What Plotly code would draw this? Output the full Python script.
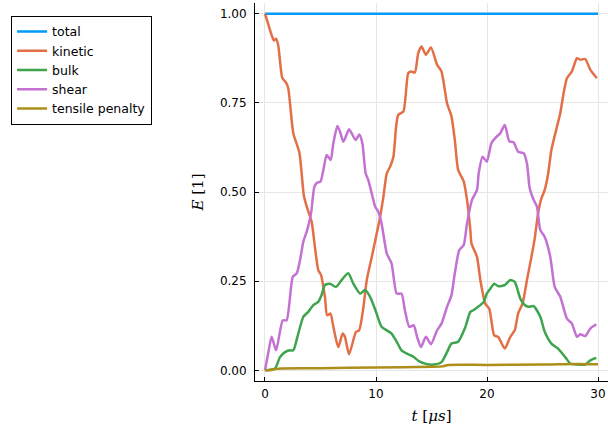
import plotly.graph_objects as go

# ---- data ----
total_t = [0, 30]
total_e = [1.0, 1.0]

kinetic_t = [0, 0.3, 0.6, 0.8, 1.0, 1.2, 1.56, 1.9, 2.1, 2.55, 3.1, 3.5, 3.76, 4.2, 4.5, 4.8, 5.05, 5.4, 5.6, 5.9,
             6.16, 6.6, 7.0, 7.2, 7.57, 8.2, 8.48, 8.87, 9.17, 9.62, 10.0, 10.37, 10.67, 10.97, 11.27, 11.57, 11.81,
             12.0, 12.47, 12.9, 13.16, 13.5, 13.8, 14.1, 14.5, 14.95, 15.5, 15.9, 16.4, 16.8, 17.1, 17.4, 17.9, 18.2,
             18.5, 18.6, 19.1, 19.4, 19.84, 20.2, 20.65, 21.0, 21.6, 22.1, 22.5, 22.8, 23.2, 23.6, 24.0, 24.3, 24.6,
             24.9, 25.2, 25.5, 25.8, 26.3, 26.6, 26.9, 27.2, 27.65, 28.1, 28.4, 28.85, 29.3, 29.9]
kinetic_e = [1.0, 0.97, 0.94, 0.925, 0.93, 0.91, 0.82, 0.807, 0.79, 0.665, 0.61, 0.49, 0.459, 0.417, 0.346, 0.281,
             0.267, 0.206, 0.154, 0.159, 0.122, 0.065, 0.103, 0.094, 0.045, 0.108, 0.112, 0.178, 0.253, 0.318, 0.374,
             0.43, 0.487, 0.552, 0.571, 0.599, 0.683, 0.716, 0.726, 0.833, 0.838, 0.835, 0.889, 0.908, 0.885, 0.905,
             0.857, 0.838, 0.749, 0.712, 0.646, 0.562, 0.53, 0.478, 0.393, 0.356, 0.318, 0.253, 0.187, 0.173, 0.098,
             0.094, 0.061, 0.094, 0.112, 0.159, 0.187, 0.253, 0.318, 0.37, 0.44, 0.482, 0.506, 0.55, 0.618, 0.683,
             0.721, 0.777, 0.819, 0.838, 0.875, 0.871, 0.873, 0.843, 0.819]

bulk_t = [0, 0.9, 1.35, 1.8, 2.25, 2.55, 3.0, 3.45, 3.9, 4.35, 4.8, 5.1, 5.4, 5.86, 6.4, 6.9, 7.5, 7.96, 8.57, 9.0,
          9.47, 10.0, 10.5, 10.97, 11.4, 11.87, 12.3, 12.9, 13.37, 13.9, 14.5, 15.2, 15.9, 16.4, 16.8, 17.4, 18.0,
          18.5, 18.8, 19.2, 19.7, 19.98, 20.3, 20.65, 21.0, 21.6, 22.1, 22.5, 23.0, 23.4, 23.75, 24.2, 24.8, 25.2,
          25.8, 26.4, 27.05, 27.5, 28.1, 28.85, 29.3, 29.85]
bulk_e = [0, 0.005, 0.037, 0.051, 0.056, 0.056, 0.103, 0.15, 0.164, 0.183, 0.192, 0.211, 0.239, 0.243, 0.234, 0.253,
          0.272, 0.243, 0.215, 0.225, 0.206, 0.164, 0.122, 0.112, 0.103, 0.08, 0.056, 0.045, 0.038, 0.025, 0.018,
          0.016, 0.023, 0.051, 0.075, 0.08, 0.117, 0.164, 0.169, 0.178, 0.192, 0.215, 0.229, 0.243, 0.236, 0.239,
          0.253, 0.248, 0.201, 0.183, 0.178, 0.18, 0.15, 0.108, 0.075, 0.061, 0.037, 0.019, 0.016, 0.016, 0.028,
          0.035]

shear_t = [0, 0.3, 0.6, 1.0, 1.6, 1.95, 2.5, 2.86, 3.16, 3.45, 3.8, 4.15, 4.45, 4.7, 5.0, 5.26, 5.56, 5.92, 6.16,
           6.52, 6.76, 7.06, 7.57, 7.8, 8.17, 8.5, 8.77, 9.07, 9.3, 9.76, 9.92, 10.2, 10.5, 10.97, 11.4, 11.87, 12.3,
           12.6, 13.0, 13.4, 13.7, 14.05, 14.5, 14.95, 15.5, 15.9, 16.4, 16.8, 17.1, 17.5, 17.9, 18.2, 18.65, 19.1,
           19.25, 19.6, 19.98, 20.4, 20.8, 21.2, 21.6, 22.0, 22.4, 22.8, 23.3, 23.6, 23.85, 24.2, 24.5, 24.8, 25.2,
           25.7, 26.1, 26.6, 27.2, 27.65, 28.1, 28.4, 28.85, 29.3, 29.85]
shear_e = [0, 0.05, 0.094, 0.056, 0.14, 0.14, 0.262, 0.272, 0.309, 0.36, 0.393, 0.44, 0.515, 0.526, 0.529, 0.562,
           0.604, 0.59, 0.637, 0.685, 0.669, 0.641, 0.676, 0.665, 0.646, 0.661, 0.637, 0.552, 0.534, 0.478, 0.459,
           0.445, 0.412, 0.328, 0.3, 0.215, 0.215, 0.169, 0.122, 0.126, 0.094, 0.065, 0.094, 0.073, 0.112, 0.131,
           0.178, 0.211, 0.272, 0.337, 0.351, 0.412, 0.478, 0.506, 0.552, 0.599, 0.585, 0.637, 0.653, 0.665, 0.688,
           0.643, 0.639, 0.613, 0.609, 0.58, 0.51, 0.478, 0.459, 0.393, 0.374, 0.318, 0.234, 0.206, 0.145, 0.131,
           0.094, 0.101, 0.096, 0.117, 0.129]

tensile_t = [0, 0.5, 1.0, 1.5, 5, 10, 15, 16, 16.5, 20, 25, 28, 30]
tensile_e = [0, 0.001, 0.004, 0.005, 0.006, 0.008, 0.01, 0.011, 0.015, 0.015, 0.016, 0.018, 0.017]

x_ticks = [0, 10, 20, 30]
y_ticks = [0.0, 0.25, 0.5, 0.75, 1.0]
y_tick_labels = ["0.00", "0.25", "0.50", "0.75", "1.00"]

series = [
    ("total", total_t, total_e, "#009AFA"),
    ("kinetic", kinetic_t, kinetic_e, "#E36F47"),
    ("bulk", bulk_t, bulk_e, "#3EA44E"),
    ("shear", shear_t, shear_e, "#C371D2"),
    ("tensile penalty", tensile_t, tensile_e, "#AC8E18"),
]

fig = go.Figure()
for name, t, e, c in series:
    fig.add_trace(go.Scatter(x=t, y=e, mode="lines", name=name,
                             line=dict(color=c, width=2.5, shape="spline", smoothing=0.6)))

axis_common = dict(showgrid=True, gridcolor="#e6e6e6", gridwidth=1, zeroline=False,
                   showline=True, linecolor="black", linewidth=1,
                   ticks="inside", ticklen=4, tickcolor="black",
                   tickfont=dict(family="DejaVu Sans", size=12, color="black"))

fig.update_layout(
    width=608, height=435,
    margin=dict(l=255, r=0, t=3, b=54),
    paper_bgcolor="white", plot_bgcolor="white",
    showlegend=True,
    legend=dict(x=-0.691, y=0.966, xanchor="left", yanchor="top",
                bordercolor="black", borderwidth=1, bgcolor="white",
                font=dict(family="DejaVu Sans", size=12.5, color="black"),
                tracegroupgap=0, itemwidth=30),
    xaxis=dict(range=[-0.9, 30.9], tickvals=x_ticks, ticktext=[str(v) for v in x_ticks],
               ticklabelstandoff=2,
               title=dict(text="<i>t</i> [<i>μs</i>]", font=dict(family="DejaVu Serif", size=15, color="black"),
                          standoff=10),
               **axis_common),
    yaxis=dict(range=[-0.03, 1.03], tickvals=y_ticks, ticktext=y_tick_labels,
               ticklabelstandoff=5,
               title=dict(text="<i>E</i> [1]", font=dict(family="DejaVu Serif", size=15, color="black"),
                          standoff=12),
               **axis_common),
)

fig.write_html("out.html")
